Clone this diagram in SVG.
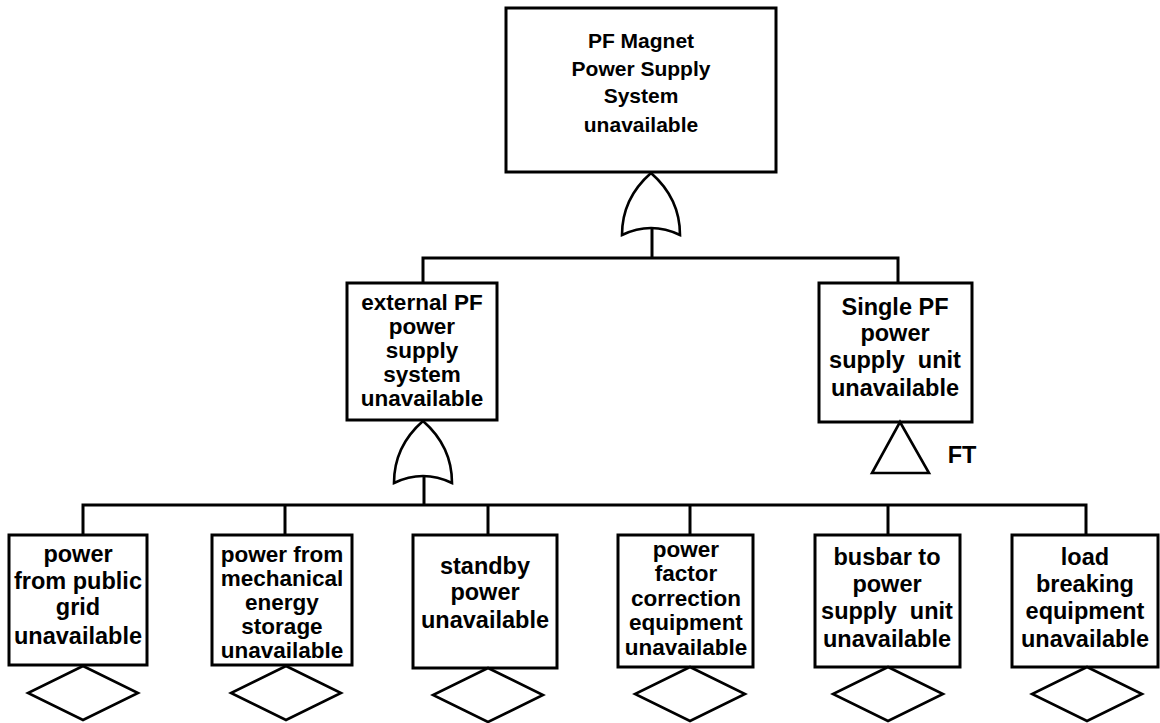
<svg xmlns="http://www.w3.org/2000/svg" width="1160" height="723" viewBox="0 0 1160 723">
  <style>
    .box { fill: #fff; stroke: #000; stroke-width: 3; }
    .sym { fill: #fff; stroke: #000; stroke-width: 2.6; stroke-linejoin: miter; }
    .wire { fill: none; stroke: #000; stroke-width: 3; }
    text { font-family: "Liberation Sans", Arial, Helvetica, sans-serif; font-weight: bold; fill: #000; text-anchor: middle; white-space: pre; }
    .t1 { font-size: 21px; }
    .t2 { font-size: 23.5px; }
    .t3 { font-size: 22.5px; }
  </style>
  <defs>
    <!-- OR gate, apex at origin -->
    <path id="orgate" d="M0,0 C-16,14 -29,34 -29,62 Q0,48 29,62 C29,34 16,14 0,0 Z"/>
    <!-- undeveloped event diamond, top vertex at origin -->
    <path id="diamond" d="M0,0 L55,27 L0,54 L-55,27 Z"/>
  </defs>

  <rect width="1160" height="723" fill="#fff"/>

  <!-- connectors -->
  <g id="connectors" class="wire">
    <path d="M652,226 V258"/>
    <path d="M423,283 V258 H898 V283"/>
    <path d="M424,477 V505"/>
    <path d="M83,535 V505 H1086 V535"/>
    <path d="M285,505 V535"/>
    <path d="M488,505 V535"/>
    <path d="M690,505 V535"/>
    <path d="M888,505 V535"/>
  </g>

  <!-- top event -->
  <g id="top">
    <rect class="box" x="506" y="8" width="270" height="164"/>
    <text class="t1" x="641" y="48">PF Magnet</text>
    <text class="t1" x="641" y="76">Power Supply</text>
    <text class="t1" x="641" y="103">System</text>
    <text class="t1" x="641" y="132">unavailable</text>
    <use href="#orgate" class="sym" x="651" y="173"/>
  </g>

  <g id="external">
    <rect class="box" x="347" y="283" width="150" height="137"/>
    <text class="t3" x="422" y="310">external PF</text>
    <text class="t3" x="422" y="334">power</text>
    <text class="t3" x="422" y="358">supply</text>
    <text class="t3" x="422" y="382">system</text>
    <text class="t3" x="422" y="406">unavailable</text>
    <use href="#orgate" class="sym" x="423" y="421"/>
  </g>

  <g id="single">
    <rect class="box" x="819" y="283" width="153" height="139"/>
    <text class="t2" x="895" y="315">Single PF</text>
    <text class="t2" x="895" y="341">power</text>
    <text class="t2" x="895" y="368">supply  unit</text>
    <text class="t2" x="895" y="396">unavailable</text>
    <path class="sym" d="M900,422 L929,473 L872,473 Z"/>
    <text class="t2" x="962" y="463">FT</text>
  </g>

  <g id="grid">
    <rect class="box" x="9" y="535" width="138" height="130"/>
    <text class="t2" x="78" y="562">power</text>
    <text class="t2" x="78" y="589">from public</text>
    <text class="t2" x="78" y="615">grid</text>
    <text class="t2" x="78" y="644">unavailable</text>
    <use href="#diamond" class="sym" x="83" y="666"/>
  </g>

  <g id="storage">
    <rect class="box" x="212" y="535" width="140" height="130"/>
    <text class="t3" x="282" y="562">power from</text>
    <text class="t3" x="282" y="586">mechanical</text>
    <text class="t3" x="282" y="610">energy</text>
    <text class="t3" x="282" y="634">storage</text>
    <text class="t3" x="282" y="658">unavailable</text>
    <use href="#diamond" class="sym" x="286" y="666"/>
  </g>

  <g id="standby">
    <rect class="box" x="413" y="535" width="144" height="133"/>
    <text class="t2" x="485" y="574">standby</text>
    <text class="t2" x="485" y="600">power</text>
    <text class="t2" x="485" y="628">unavailable</text>
    <use href="#diamond" class="sym" x="488" y="668"/>
  </g>

  <g id="pfc">
    <rect class="box" x="618" y="535" width="135" height="132"/>
    <text class="t3" x="686" y="557">power</text>
    <text class="t3" x="686" y="581">factor</text>
    <text class="t3" x="686" y="606">correction</text>
    <text class="t3" x="686" y="630">equipment</text>
    <text class="t3" x="686" y="655">unavailable</text>
    <use href="#diamond" class="sym" x="690" y="667"/>
  </g>

  <g id="busbar">
    <rect class="box" x="815" y="535" width="145" height="132"/>
    <text class="t2" x="887" y="565">busbar to</text>
    <text class="t2" x="887" y="592">power</text>
    <text class="t2" x="887" y="619">supply  unit</text>
    <text class="t2" x="887" y="647">unavailable</text>
    <use href="#diamond" class="sym" x="888" y="667"/>
  </g>

  <g id="breaker">
    <rect class="box" x="1012" y="535" width="146" height="132"/>
    <text class="t2" x="1085" y="565">load</text>
    <text class="t2" x="1085" y="592">breaking</text>
    <text class="t2" x="1085" y="619">equipment</text>
    <text class="t2" x="1085" y="647">unavailable</text>
    <use href="#diamond" class="sym" x="1087" y="667"/>
  </g>
</svg>
